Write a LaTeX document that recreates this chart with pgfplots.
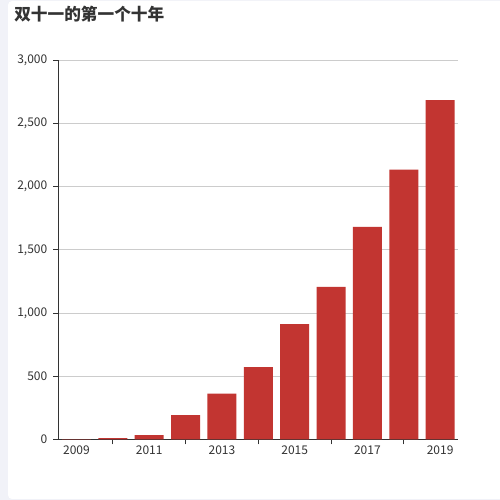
\documentclass[border=0pt]{standalone}
\usepackage{pgfplots}
\pgfplotsset{compat=1.18}
\usepackage{fontspec}
\setmainfont{Noto Sans CJK SC}
\definecolor{barred}{HTML}{C23531}
\definecolor{pagebg}{HTML}{F1F2F8}
\definecolor{txt}{HTML}{333333}
\definecolor{gridc}{HTML}{CCCCCC}

\begin{document}
\begin{tikzpicture}[x=0.75pt,y=0.75pt]
\useasboundingbox (0,0) rectangle (500,500);
\fill[pagebg] (0,0) rectangle (500,500);
\fill[white, rounded corners=3] (8,1) rectangle (510,499);
\node[anchor=north west, inner sep=0pt, text=txt,
      font=\bfseries\fontsize{12.5}{14}\selectfont] at (14,494) {双十一的第一个十年};
\begin{axis}[
    at={(43.725pt,45.525pt)}, anchor=south west,
    scale only axis,
    width=300pt, height=284.25pt,
    xmin=-0.5, xmax=10.5,
    ymin=0, ymax=3000,
    axis x line*=bottom, axis y line*=left,
    separate axis lines,
    x axis line style={draw=txt, -},
    y axis line style={draw=txt, -},
    tick align=outside,
    major tick length=3.75pt,
    tick style={draw=txt, line width=0.6pt},
    ytick={0,500,...,3000},
    ymajorgrids,
    grid style={draw=gridc, line width=0.6pt},
    xtick={1,3,5,7,9},
    xticklabels={},
    extra x ticks={0,2,4,6,8,10},
    extra x tick labels={2009,2011,2013,2015,2017,2019},
    extra x tick style={major tick length=0pt, grid=none},
    tick label style={font=\fontsize{9}{10}\selectfont, text=txt},
    /pgf/number format/assume math mode=true,
    /pgf/number format/1000 sep={,},
    yticklabel style={xshift=-1pt},
    xticklabel style={yshift=-1pt},
    ybar, bar width=21.75pt,
]
\addplot[fill=barred, draw=none] coordinates {
    (0,0.5) (1,9.36) (2,33.6) (3,191) (4,362) (5,571)
    (6,912) (7,1207) (8,1682) (9,2135) (10,2684)
};
\end{axis}
\end{tikzpicture}
\end{document}
